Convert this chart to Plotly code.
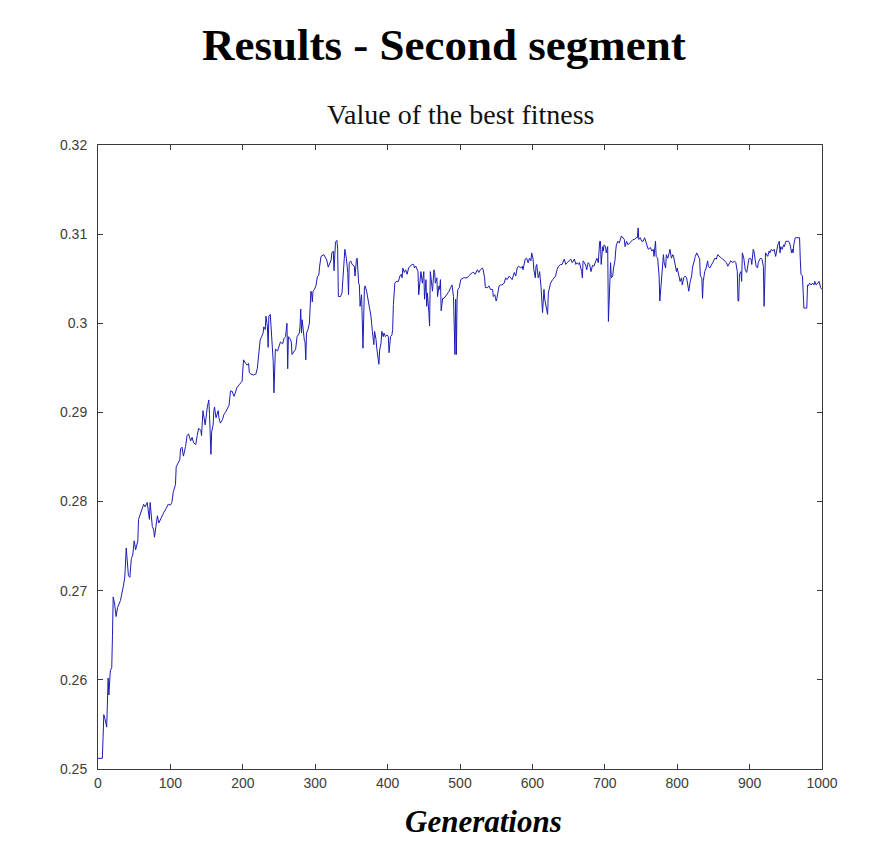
import plotly.graph_objects as go

# Best fitness per generation (second segment run)
generations = [
    0, 6, 7, 8, 10, 12, 14, 15, 17, 19, 20, 21, 23, 25, 27, 31, 35, 37, 39, 40,
    42, 44, 46, 48, 50, 52, 55, 56, 58, 61, 63, 65, 68, 70, 71, 72, 74, 75, 77, 78,
    80, 82, 84, 86, 88, 91, 94, 97, 100, 102, 104, 105, 107, 108, 111, 113, 114, 116, 118, 121,
    123, 125, 128, 130, 132, 135, 137, 139, 142, 143, 145, 147, 148, 151, 153, 154, 156, 157, 159, 160,
    161, 163, 166, 167, 169, 172, 174, 176, 178, 181, 183, 185, 188, 190, 192, 195, 197, 199, 201, 202,
    204, 206, 208, 209, 211, 215, 218, 220, 222, 224, 226, 228, 229, 231, 232, 234, 235, 236, 238, 240,
    241, 242, 243, 244, 245, 248, 250, 252, 255, 257, 259, 261, 262, 263, 265, 267, 268, 271, 273, 275,
    278, 279, 280, 281, 282, 285, 286, 287, 288, 290, 292, 294, 295, 296, 297, 299, 301, 303, 305, 306,
    308, 312, 316, 318, 319, 322, 323, 325, 326, 327, 328, 330, 331, 332,
    335, 337, 339, 341, 343, 345, 346, 347, 349, 351, 354, 355, 357, 358, 360, 361, 362, 364, 365, 366,
    368, 369, 371, 374, 376, 377, 379, 381, 382, 384, 385, 387, 388, 389, 391, 392, 394, 395, 397, 399,
    401, 402, 404, 406, 407, 408, 410, 412, 415, 417, 419, 420, 421, 423, 425, 427, 429, 431, 434, 436,
    437, 439, 441, 442, 443, 445, 446, 448, 450, 451, 453, 454, 455, 457, 458, 459, 460, 462, 464, 465,
    466, 468, 469, 471, 472, 473, 474, 476, 478, 480, 482, 485, 487, 489, 491, 493, 494, 495, 496, 497,
    499, 501, 505, 510, 512, 515, 517, 519, 521, 524, 526, 528, 531, 532, 534, 535, 538, 540, 542, 545,
    546, 548, 550, 551, 554, 556, 558, 561, 563, 565, 568, 570, 572, 575, 577, 579, 581, 584, 586, 587,
    590, 592, 594, 596, 598, 599, 601, 602, 604, 605, 606, 608, 609, 610, 612, 614, 616, 617, 619, 621,
    622, 623, 625, 628, 630, 632, 634, 636, 639, 641, 644, 646, 648, 651, 653, 655, 658, 660,
    662, 664, 665, 668, 669, 670, 672, 674, 675, 677, 679, 681, 683, 685, 687, 689, 691, 692, 693, 694,
    695, 697, 698, 699, 701, 702, 704, 705, 706, 707, 708, 709, 711, 712, 714, 715, 716, 718, 720, 723,
    725, 727, 728, 730, 732, 734, 737, 739, 741, 743, 745, 746, 747, 749, 751, 753, 755, 757, 758, 760,
    763, 765, 767, 768, 770, 771, 773, 775, 776, 778, 779, 781, 782, 784, 785, 787, 789, 790, 792, 794,
    795, 797, 799, 800, 802, 804, 806, 807, 809, 811, 813, 815, 816, 818, 820, 821, 823, 825, 827, 829,
    831, 832, 834, 835, 836, 838, 840, 842, 843, 845, 847, 849, 852, 854, 856, 858, 861, 863, 865, 868,
    870, 872, 874, 877, 879, 881, 883, 884, 885, 886, 888, 889, 890, 892, 893, 894, 896, 897, 899, 900,
    902, 903, 905, 906, 908, 909, 911, 912, 914, 916, 917, 919, 920, 921, 922, 925, 927, 928, 930, 932,
    934, 936, 937, 939, 941, 942, 943, 945, 947, 948, 950, 952, 954, 956, 958, 959, 960, 961, 963, 965,
    967, 969, 970, 971, 973, 974, 975, 977, 979, 980, 981, 983, 985, 987, 989, 990, 992, 994, 996, 998,
    1000,
]

best_fitness = [
    0.2512, 0.2512, 0.2535, 0.2561, 0.2555, 0.2547, 0.2602, 0.2583, 0.2610, 0.2614, 0.2650, 0.2693, 0.2685, 0.2671, 0.2681, 0.2689, 0.2705, 0.2715, 0.2748, 0.2740,
    0.2717, 0.2715, 0.2736, 0.2740, 0.2756, 0.2746, 0.2756, 0.2780, 0.2784, 0.2792, 0.2797, 0.2794, 0.2799, 0.2788, 0.2780, 0.2799, 0.2780, 0.2772, 0.2768, 0.2760,
    0.2772, 0.2784, 0.2776, 0.2780, 0.2784, 0.2788, 0.2792, 0.2797, 0.2796, 0.2799, 0.2811, 0.2815, 0.2819, 0.2839, 0.2843, 0.2847, 0.2859, 0.2861, 0.2851, 0.2862,
    0.2874, 0.2876, 0.2868, 0.2872, 0.2866, 0.2864, 0.2874, 0.2882, 0.2880, 0.2874, 0.2902, 0.2894, 0.2886, 0.2906, 0.2914, 0.2898, 0.2853, 0.2878, 0.2886, 0.2902,
    0.2906, 0.2894, 0.2902, 0.2894, 0.2888, 0.2892, 0.2898, 0.2900, 0.2904, 0.2908, 0.2924, 0.2924, 0.2918, 0.2922, 0.2928, 0.2931, 0.2933, 0.2935, 0.2959, 0.2957,
    0.2955, 0.2953, 0.2955, 0.2945, 0.2943, 0.2942, 0.2943, 0.2949, 0.2965, 0.2981, 0.2985, 0.2989, 0.2996, 0.2993, 0.3008, 0.2996, 0.2973, 0.3008, 0.3010, 0.2985,
    0.2969, 0.2957, 0.2922, 0.2957, 0.2971, 0.2969, 0.2975, 0.2979, 0.2977, 0.2983, 0.2985, 0.3000, 0.2949, 0.2985, 0.2983, 0.2979, 0.2965, 0.2969, 0.2971, 0.2985,
    0.2989, 0.2996, 0.3016, 0.2989, 0.3004, 0.2981, 0.2979, 0.2959, 0.2989, 0.2993, 0.3000, 0.3036, 0.3034, 0.3024, 0.3036, 0.3038, 0.3042, 0.3052, 0.3054, 0.3063,
    0.3075, 0.3077, 0.3071, 0.3063, 0.3065, 0.3071, 0.3079, 0.3081, 0.3059, 0.3075, 0.3091, 0.3093, 0.3084, 0.3030,
    0.3030, 0.3034, 0.3060, 0.3083, 0.3073, 0.3057, 0.3032, 0.3068, 0.3070, 0.3066, 0.3064, 0.3053, 0.3072, 0.3073, 0.3045, 0.3043, 0.3019, 0.3032, 0.3004, 0.2972,
    0.3040, 0.3042, 0.3036, 0.3023, 0.3014, 0.3008, 0.2991, 0.2976, 0.2991, 0.2982, 0.2972, 0.2963, 0.2954, 0.2970, 0.2978, 0.2991, 0.2985, 0.2989, 0.2985, 0.2987,
    0.2985, 0.2967, 0.2985, 0.2987, 0.2993, 0.3021, 0.3045, 0.3047, 0.3047, 0.3053, 0.3055, 0.3051, 0.3062, 0.3057, 0.3060, 0.3055, 0.3062, 0.3064, 0.3066, 0.3066,
    0.3062, 0.3064, 0.3060, 0.3058, 0.3032, 0.3047, 0.3058, 0.3045, 0.3058, 0.3027, 0.3049, 0.3019, 0.3034, 0.3012, 0.2997, 0.3058, 0.3051, 0.3036, 0.3060, 0.3057,
    0.3045, 0.3051, 0.3030, 0.3042, 0.3038, 0.3049, 0.3014, 0.3028, 0.3028, 0.3030, 0.3032, 0.3036, 0.3040, 0.3043, 0.3030, 0.2965, 0.3027, 0.2965, 0.3027, 0.3038,
    0.3040, 0.3049, 0.3051, 0.3051, 0.3053, 0.3055, 0.3057, 0.3057, 0.3055, 0.3060, 0.3057, 0.3060, 0.3062, 0.3060, 0.3051, 0.3040, 0.3040, 0.3042, 0.3038, 0.3038,
    0.3030, 0.3032, 0.3025, 0.3028, 0.3042, 0.3043, 0.3043, 0.3045, 0.3051, 0.3049, 0.3053, 0.3051, 0.3049, 0.3057, 0.3053, 0.3062, 0.3064, 0.3062, 0.3064, 0.3060,
    0.3072, 0.3073, 0.3068, 0.3073, 0.3070, 0.3079, 0.3072, 0.3060, 0.3051, 0.3064, 0.3066, 0.3051, 0.3053, 0.3058, 0.3040, 0.3012, 0.3038, 0.3027, 0.3019, 0.3010,
    0.3034, 0.3038, 0.3045, 0.3049, 0.3051, 0.3053, 0.3060, 0.3064, 0.3066, 0.3066, 0.3072, 0.3066, 0.3068, 0.3070, 0.3072, 0.3068, 0.3072, 0.3066,
    0.3068, 0.3066, 0.3068, 0.3058, 0.3051, 0.3070, 0.3068, 0.3064, 0.3060, 0.3068, 0.3066, 0.3058, 0.3065, 0.3064, 0.3068, 0.3073, 0.3068, 0.3083, 0.3092, 0.3092,
    0.3066, 0.3086, 0.3081, 0.3088, 0.3086, 0.3079, 0.3086, 0.3002, 0.3019, 0.3047, 0.3068, 0.3051, 0.3053, 0.3062, 0.3070, 0.3081, 0.3088, 0.3092, 0.3090, 0.3098,
    0.3096, 0.3094, 0.3086, 0.3092, 0.3088, 0.3090, 0.3092, 0.3094, 0.3094, 0.3096, 0.3096, 0.3107, 0.3094, 0.3096, 0.3092, 0.3092, 0.3096, 0.3090, 0.3088, 0.3083,
    0.3085, 0.3081, 0.3083, 0.3075, 0.3092, 0.3075, 0.3073, 0.3053, 0.3025, 0.3051, 0.3058, 0.3077, 0.3068, 0.3062, 0.3077, 0.3073, 0.3079, 0.3083, 0.3073, 0.3077,
    0.3075, 0.3066, 0.3058, 0.3062, 0.3055, 0.3047, 0.3051, 0.3043, 0.3051, 0.3053, 0.3051, 0.3043, 0.3036, 0.3047, 0.3053, 0.3062, 0.3070, 0.3075, 0.3079, 0.3075,
    0.3072, 0.3053, 0.3051, 0.3028, 0.3047, 0.3058, 0.3062, 0.3070, 0.3064, 0.3062, 0.3066, 0.3068, 0.3073, 0.3072, 0.3077, 0.3075, 0.3073, 0.3072, 0.3070, 0.3068,
    0.3064, 0.3068, 0.3070, 0.3068, 0.3070, 0.3068, 0.3058, 0.3025, 0.3025, 0.3055, 0.3058, 0.3047, 0.3079, 0.3073, 0.3064, 0.3060, 0.3057, 0.3064, 0.3072, 0.3073,
    0.3072, 0.3066, 0.3083, 0.3081, 0.3072, 0.3064, 0.3062, 0.3068, 0.3072, 0.3073, 0.3072, 0.3064, 0.3019, 0.3073, 0.3079, 0.3075, 0.3081, 0.3079, 0.3083, 0.3081,
    0.3083, 0.3075, 0.3081, 0.3088, 0.3092, 0.3079, 0.3086, 0.3083, 0.3088, 0.3086, 0.3092, 0.3092, 0.3092, 0.3088, 0.3079, 0.3083, 0.3079, 0.3088, 0.3096, 0.3096,
    0.3096, 0.3096, 0.3072, 0.3055, 0.3053, 0.3036, 0.3017, 0.3017, 0.3017, 0.3043, 0.3042, 0.3045, 0.3043, 0.3045, 0.3043, 0.3047, 0.3043, 0.3045, 0.3047, 0.3040,
    0.3038,
]

x_ticks = [0, 100, 200, 300, 400, 500, 600, 700, 800, 900, 1000]
y_ticks = [0.25, 0.26, 0.27, 0.28, 0.29, 0.30, 0.31, 0.32]
y_tick_labels = ["0.25", "0.26", "0.27", "0.28", "0.29", "0.3", "0.31", "0.32"]

title_text = "Results - Second segment"
subtitle_text = "Value of the best fitness"
x_label = "Generations"

axis_color = "#3a3a3a"
tick_font = dict(family="Liberation Sans, Arial, sans-serif", size=14, color="#3c3c3c")

fig = go.Figure()
fig.add_trace(go.Scatter(
    x=generations,
    y=best_fitness,
    mode="lines",
    line=dict(color="#1c1cb4", width=1),
    hoverinfo="x+y",
    showlegend=False,
))

fig.update_layout(
    width=885,
    height=847,
    margin=dict(l=98, r=63, t=145, b=78),
    paper_bgcolor="white",
    plot_bgcolor="white",
    xaxis=dict(
        range=[0, 1000],
        tickvals=x_ticks,
        ticks="inside",
        ticklen=5,
        tickcolor=axis_color,
        showline=True,
        linecolor=axis_color,
        linewidth=1,
        mirror="ticks",
        showgrid=False,
        zeroline=False,
        tickfont=tick_font,
        ticklabelstandoff=1,
    ),
    yaxis=dict(
        range=[0.25, 0.32],
        tickvals=y_ticks,
        ticktext=y_tick_labels,
        ticks="inside",
        ticklen=5,
        tickcolor=axis_color,
        showline=True,
        linecolor=axis_color,
        linewidth=1,
        mirror="ticks",
        showgrid=False,
        zeroline=False,
        tickfont=tick_font,
        ticklabelstandoff=7,
    ),
    annotations=[
        dict(
            text="<b>" + title_text + "</b>",
            xref="paper", yref="paper",
            x=0.5, xanchor="center",
            y=1.0, yanchor="middle",
            yshift=100,
            xshift=-16,
            showarrow=False,
            font=dict(family="Liberation Serif, serif", size=45, color="black"),
        ),
        dict(
            text=subtitle_text,
            xref="paper", yref="paper",
            x=0.5, xanchor="center",
            y=1.0, yanchor="middle",
            yshift=31,
            xshift=1,
            showarrow=False,
            font=dict(family="Liberation Serif, serif", size=28, color="#111111"),
        ),
        dict(
            text="<b><i>" + x_label + "</i></b>",
            xref="paper", yref="paper",
            x=0.5, xanchor="center",
            y=0.0, yanchor="middle",
            yshift=-52,
            xshift=23,
            showarrow=False,
            font=dict(family="Liberation Serif, serif", size=31, color="black"),
        ),
    ],
)

fig.write_html("out.html")
